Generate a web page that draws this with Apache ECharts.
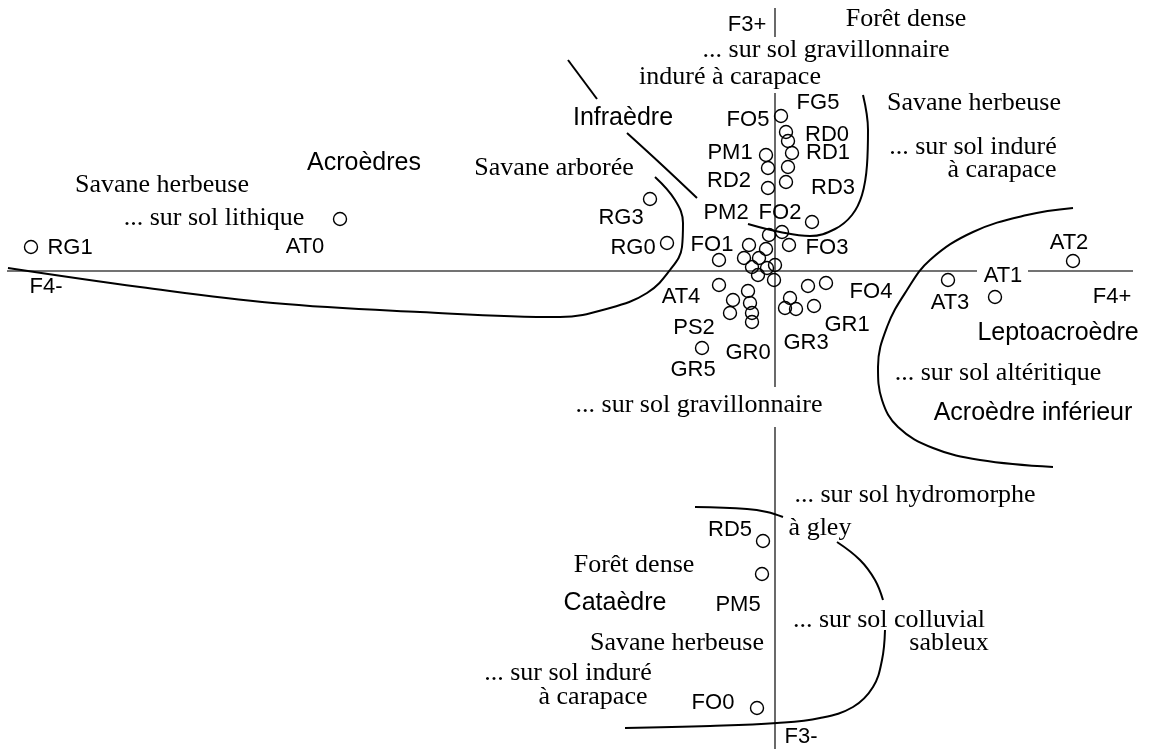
<!DOCTYPE html>
<html>
<head>
<meta charset="utf-8">
<script src="https://cdn.jsdelivr.net/npm/echarts@6/dist/echarts.min.js"></script>
<style>
  html, body { margin: 0; padding: 0; background: #fff; }
  #chart { width: 1152px; height: 749px; }
</style>
</head>
<body>
<div id="chart"></div>
<script>
// plan factoriel F4 (horizontal) x F3 (vertical)
const circles = [
  [-7.44, 0.24], [-4.35, 0.52], [-1.25, 0.72], [-1.08, 0.28],
  [0.06, 1.55], [0.11, 1.39], [0.13, 1.30], [0.17, 1.18], [-0.09, 1.16],
  [-0.07, 1.03], [0.13, 1.04], [0.11, 0.89], [-0.07, 0.83], [0.37, 0.49],
  [-0.06, 0.36], [0.07, 0.39], [0.14, 0.26], [-0.26, 0.26], [-0.09, 0.22],
  [-0.56, 0.11], [-0.31, 0.13], [-0.16, 0.13], [0.00, 0.06], [-0.23, 0.04],
  [-0.08, 0.03], [-0.17, -0.04], [-0.01, -0.09], [-0.56, -0.14], [-0.27, -0.20],
  [-0.42, -0.29], [-0.25, -0.32], [-0.45, -0.42], [-0.23, -0.42], [-0.23, -0.51],
  [-0.73, -0.77], [0.15, -0.27], [0.10, -0.37], [0.21, -0.38], [0.39, -0.35],
  [0.33, -0.15], [0.51, -0.12], [1.73, -0.09], [2.20, -0.26], [2.98, 0.10],
  [-0.12, -2.70], [-0.13, -3.03], [-0.18, -4.37]
];

const pointLabels = [
  [-0.28, 2.46, 'F3+'], [0.26, -4.66, 'F3-'], [-7.29, -0.16, 'F4-'], [3.37, -0.26, 'F4+'],
  [0.43, 1.68, 'FG5'], [-0.27, 1.51, 'FO5'], [0.52, 1.36, 'RD0'], [0.53, 1.18, 'RD1'],
  [-0.45, 1.18, 'PM1'], [-0.46, 0.90, 'RD2'], [0.58, 0.83, 'RD3'], [-0.49, 0.58, 'PM2'],
  [0.05, 0.58, 'FO2'], [-1.54, 0.53, 'RG3'], [-1.42, 0.23, 'RG0'], [-0.63, 0.26, 'FO1'],
  [0.52, 0.23, 'FO3'], [-0.94, -0.26, 'AT4'], [-0.81, -0.57, 'PS2'], [-0.27, -0.82, 'GR0'],
  [-0.82, -0.99, 'GR5'], [0.31, -0.72, 'GR3'], [0.72, -0.54, 'GR1'], [0.96, -0.21, 'FO4'],
  [2.94, 0.28, 'AT2'], [2.28, -0.05, 'AT1'], [1.75, -0.32, 'AT3'], [-7.05, 0.23, 'RG1'],
  [-4.70, 0.24, 'AT0'], [-0.45, -2.59, 'RD5'], [-0.37, -3.34, 'PM5'], [-0.62, -4.32, 'FO0']
];

const groupLabels = [
  [-1.52, 1.53, 'Infraèdre'], [-4.11, 1.08, 'Acroèdres'], [2.83, -0.62, 'Leptoacroèdre'],
  [2.58, -1.42, 'Acroèdre inférieur'], [-1.60, -3.32, 'Cataèdre']
];

const noteLabels = [
  [1.31, 2.52, 'Forêt dense'], [0.51, 2.21, '... sur sol gravillonnaire'],
  [-0.45, 1.94, 'induré à carapace'], [1.99, 1.68, 'Savane herbeuse'],
  [1.98, 1.24, '... sur sol induré'], [2.27, 1.01, 'à carapace'],
  [-2.21, 1.03, 'Savane arborée'], [-6.13, 0.86, 'Savane herbeuse'],
  [-5.61, 0.53, '... sur sol lithique'], [-0.76, -1.34, '... sur sol gravillonnaire'],
  [2.23, -1.02, '... sur sol altéritique'], [1.40, -2.24, '... sur sol hydromorphe'],
  [0.45, -2.57, 'à gley'], [-1.41, -2.94, 'Forêt dense'],
  [1.14, -3.49, '... sur sol colluvial'], [1.74, -3.72, 'sableux'],
  [-0.98, -3.72, 'Savane herbeuse'], [-2.07, -4.02, '... sur sol induré'],
  [-1.82, -4.26, 'à carapace']
];

const curves = [
  [[-2.07, 2.11], [-1.78, 1.72]],
  [[-1.48, 1.38], [-1.13, 1.06], [-0.78, 0.73]],
  [[-1.20, 0.94], [-1.00, 0.71], [-0.92, 0.48], [-0.93, 0.24], [-1.05, 0.01],
   [-1.28, -0.22], [-1.65, -0.37], [-2.15, -0.46], [-3.55, -0.41], [-5.02, -0.32],
   [-6.35, -0.16], [-7.67, 0.03]],
  [[-0.27, 0.47], [0.05, 0.39], [0.35, 0.35], [0.60, 0.42], [0.77, 0.56],
   [0.87, 0.76], [0.92, 1.06], [0.93, 1.41], [0.88, 1.76]],
  [[2.98, 0.63], [2.52, 0.56], [1.98, 0.39], [1.55, 0.11], [1.32, -0.19],
   [1.12, -0.56], [1.03, -0.96], [1.07, -1.29], [1.23, -1.56], [1.58, -1.77],
   [2.05, -1.89], [2.78, -1.96]],
  [[-0.80, -2.36], [-0.28, -2.38], [-0.08, -2.41], [0.08, -2.46]],
  [[0.62, -2.71], [0.85, -2.89], [1.00, -3.09], [1.08, -3.29]],
  [[1.10, -3.59], [1.07, -3.89], [0.98, -4.16], [0.78, -4.36], [0.45, -4.47],
   [0.02, -4.52], [-0.65, -4.55], [-1.50, -4.57]]
];

const axisSegments = [
  [[-7.68, 0], [2.02, 0]],
  [[2.53, 0], [3.58, 0]],
  [[0, 2.63], [0, 2.34]],
  [[0, 1.78], [0, -1.16]],
  [[0, -1.56], [0, -4.78]]
];

const chart = echarts.init(document.getElementById('chart'));

function textSeries(data, font, size) {
  return {
    type: 'scatter',
    data: data,
    symbolSize: 0,
    silent: true,
    z: 5,
    itemStyle: { opacity: 1 },
    label: {
      show: true,
      position: 'inside',
      formatter: p => p.data[2],
      fontFamily: font,
      fontSize: size,
      color: '#000',
      opacity: 1,
      align: 'center',
      verticalAlign: 'middle'
    }
  };
}

const series = [];
axisSegments.forEach(s => {
  series.push({
    type: 'line', data: s, symbol: 'none', silent: true,
    lineStyle: { color: '#444', width: 1.6 }
  });
});
curves.forEach(c => {
  series.push({
    type: 'line', data: c, smooth: 0.4, symbol: 'none', silent: true,
    lineStyle: { color: '#000', width: 2 }
  });
});
series.push({
  type: 'scatter',
  data: circles,
  symbol: 'circle',
  symbolSize: 13,
  silent: true,
  z: 4,
  itemStyle: { color: 'rgba(0,0,0,0)', borderColor: '#000', borderWidth: 1.4, opacity: 1 }
});
series.push(textSeries(pointLabels, 'Liberation Sans', 22));
series.push(textSeries(groupLabels, 'Liberation Sans', 25));
series.push(textSeries(noteLabels, 'Liberation Serif', 26));

chart.setOption({
  animation: false,
  backgroundColor: '#fff',
  grid: { left: 0, right: 0, top: 0, bottom: 0 },
  xAxis: { type: 'value', min: -7.75, max: 3.77, show: false },
  yAxis: { type: 'value', min: -4.78, max: 2.71, show: false },
  series: series
});
</script>
</body>
</html>
